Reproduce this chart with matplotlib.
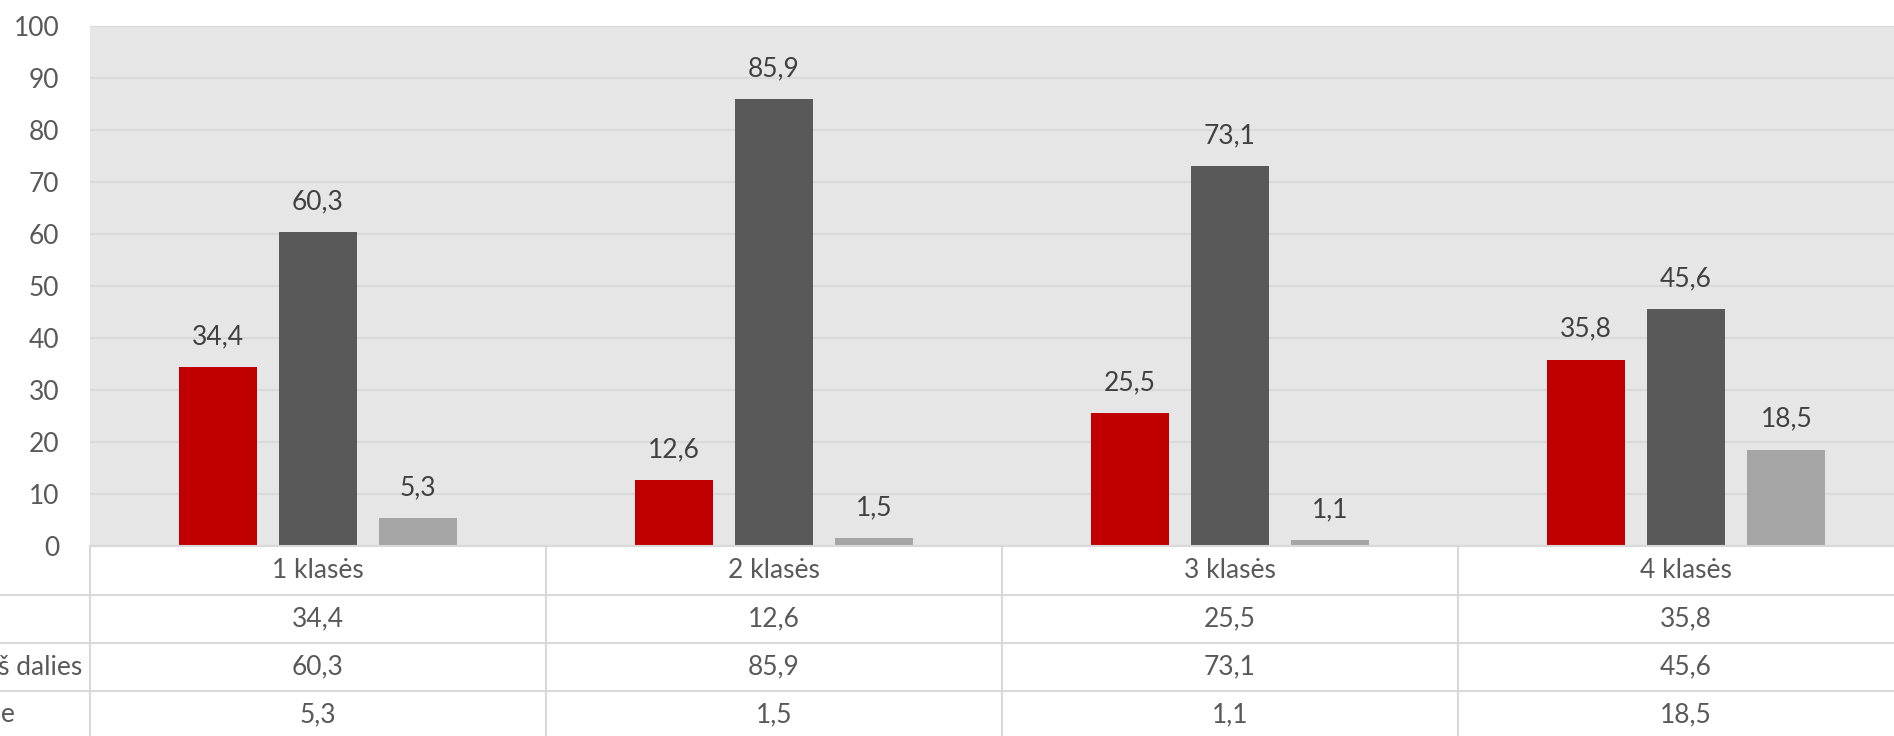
import matplotlib.pyplot as plt
import numpy as np

plt.rcParams['font.family'] = ['Lato', 'DejaVu Sans']

categories = ["1 klasės", "2 klasės", "3 klasės", "4 klasės"]
series_names = ["Taip", "Taip, tik iš dalies", "Visiškai ne"]
taip = [34.4, 12.6, 25.5, 35.8]
is_dalies = [60.3, 85.9, 73.1, 45.6]
ne = [5.3, 1.5, 1.1, 18.5]
series = [taip, is_dalies, ne]
colors = ["#C00000", "#595959", "#A5A5A5"]

W, H = 1894, 736
fig = plt.figure(figsize=(W / 100, H / 100), dpi=100)

def fy(px):                 # pixel row (from top) -> figure fraction
    return 1 - px / H

ax = fig.add_axes([90 / W, fy(546), 1824 / W, 520 / H])
ax.set_facecolor("#E7E6E6")

x = np.arange(len(categories))
offsets = [-0.22, 0.0, 0.22]
for vals, off, c in zip(series, offsets, colors):
    p = ax.bar(x + off, vals, width=0.171, color=c, zorder=3)
    ax.bar_label(p, labels=[f"{v:.1f}".replace(".", ",") for v in vals],
                 padding=13, fontsize=19, color="#404040")

ax.set_xlim(-0.5, len(categories) - 0.5)
ax.set_ylim(0, 100)
ax.set_yticks(range(0, 101, 10))
ax.tick_params(axis="y", length=0, pad=22, labelsize=19, labelcolor="#595959")
ax.set_xticks([])
ax.yaxis.grid(True, color="#D9D9D9", lw=1.5)
ax.set_axisbelow(True)
for s in ax.spines.values():
    s.set_visible(False)

# data table under the axis
line_c = "#D9D9D9"
ax.plot([-0.5, len(categories) - 0.5], [0, 0], color=line_c, lw=1.5,
        clip_on=False, zorder=4)
for yp in [595, 643, 691]:
    fig.add_artist(plt.Line2D([0, 1], [fy(yp), fy(yp)], color=line_c, lw=1.5))
for xb in np.arange(len(categories) + 1) - 0.5:
    xf = fig.transFigure.inverted().transform(ax.transData.transform((xb, 0)))[0]
    fig.add_artist(plt.Line2D([xf, xf], [fy(546), 0], color=line_c, lw=1.5))

row_y = [619, 667, 715]
for i, cat in enumerate(categories):
    xf = fig.transFigure.inverted().transform(ax.transData.transform((i, 0)))[0]
    fig.text(xf, fy(570), cat, ha="center", va="center", fontsize=19, color="#595959")
    for vals, yp in zip(series, row_y):
        fig.text(xf, fy(yp), f"{vals[i]:.1f}".replace(".", ","), ha="center",
                 va="center", fontsize=19, color="#595959")

# row labels, left aligned, cut by the left edge of the picture
ref = fig.text(82 / W, fy(row_y[1]), series_names[1], ha="right", va="center",
               fontsize=19, color="#595959")
fig.canvas.draw()
x0 = ref.get_window_extent().x0 / W
ref.remove()
for name, yp in zip(series_names, row_y):
    fig.text(x0, fy(yp), name, ha="left", va="center", fontsize=19, color="#595959")

fig.savefig("out.png", dpi=100)
